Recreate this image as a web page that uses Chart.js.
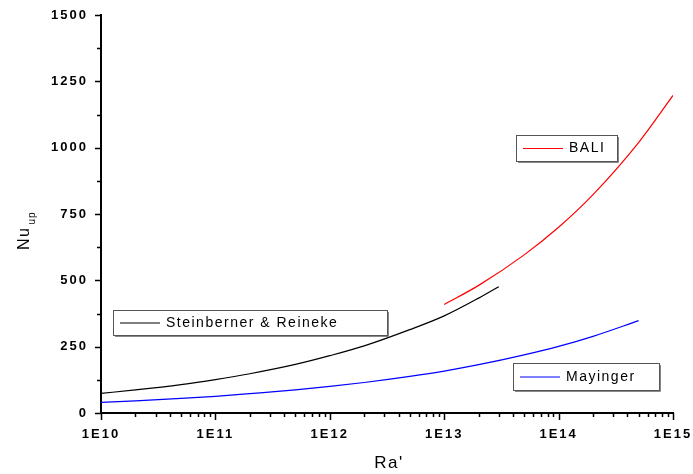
<!DOCTYPE html>
<html>
<head>
<meta charset="utf-8">
<script src="https://cdn.jsdelivr.net/npm/chart.js@4"></script>
<style>
  html, body { margin: 0; padding: 0; background: #fff; }
  #wrap { width: 693px; height: 474px; }
</style>
</head>
<body>
<div id="wrap"><canvas id="nuChart" width="693" height="474"></canvas></div>
<script>
// values
const srRa = [1e10, 2e10, 5e10, 1e11, 2e11, 5e11, 1e12, 2e12, 5e12, 1e13, 2e13, 3e13];
const srNu = [74, 87, 107, 126, 148, 183, 216, 253, 314, 366, 433, 476];

const mayRa = [1e10, 2e10, 5e10, 1e11, 2e11, 5e11, 1e12, 2e12, 5e12, 1e13, 2e13, 5e13, 1e14, 2e14, 5e14];
const mayNu = [40, 46, 55, 63, 73, 87, 100, 115, 138, 158, 182, 219, 251, 289, 348];

const baliRa = [1e13, 2e13, 5e13, 1e14, 2e14, 5e14, 1e15];
const baliNu = [409, 481, 596, 700, 823, 1019, 1197];

const yTicks = [0, 250, 500, 750, 1000, 1250, 1500];

const pts = (xs, ys) => xs.map((x, i) => ({ x: x, y: ys[i] }));

// legend boxes (label, colour, box x, y, w, h)
const legendBoxes = [
  ['Steinberner & Reineke', '#000000', 113, 310, 274, 25],
  ['BALI', '#ff0000', 516, 135, 101, 26],
  ['Mayinger', '#0000ff', 513, 363, 146, 27]
];

const originLook = {
  id: 'originLook',
  beforeLayout(chart) { chart.ctx.letterSpacing = '2px'; },
  beforeDraw(chart) { chart.ctx.letterSpacing = '2px'; },
  afterDraw(chart) {
    const ctx = chart.ctx;
    const xs = chart.scales.x, ys = chart.scales.y;
    const area = chart.chartArea;
    ctx.save();
    ctx.strokeStyle = '#000';
    ctx.lineWidth = 1.5;
    // x ticks, decades and minors
    ctx.beginPath();
    for (let e = 10; e <= 15; e++) {
      for (let m = 1; m <= 9; m++) {
        const v = m * Math.pow(10, e);
        if (v > 1e15) break;
        const px = Math.round(xs.getPixelForValue(v)) + 0.5;
        const len = m === 1 ? 7 : 4;
        ctx.moveTo(px, area.bottom);
        ctx.lineTo(px, area.bottom + len);
      }
    }
    // y ticks every 125
    for (let v = 0; v <= 1500; v += 125) {
      const py = Math.round(ys.getPixelForValue(v)) + 0.5;
      const len = v % 250 === 0 ? 6 : 4;
      ctx.moveTo(area.left, py);
      ctx.lineTo(area.left - len, py);
    }
    ctx.stroke();

    // axis titles
    ctx.fillStyle = '#000';
    ctx.letterSpacing = '1.5px';
    ctx.font = '17px "Liberation Sans", Arial, sans-serif';
    ctx.textAlign = 'center';
    ctx.textBaseline = 'alphabetic';
    ctx.fillText("Ra'", 389, 468);

    ctx.save();
    ctx.translate(29, 250);
    ctx.rotate(-Math.PI / 2);
    ctx.textAlign = 'left';
    ctx.font = '16px "Liberation Sans", Arial, sans-serif';
    ctx.fillText('Nu', 0, 0);
    const w = ctx.measureText('Nu').width;
    ctx.font = '10px "Liberation Sans", Arial, sans-serif';
    ctx.letterSpacing = '1px';
    ctx.fillText('up', w + 2, 6);
    ctx.restore();

    // legend boxes
    ctx.letterSpacing = '1.5px';
    ctx.font = '14px "Liberation Sans", Arial, sans-serif';
    ctx.textAlign = 'left';
    ctx.textBaseline = 'middle';
    legendBoxes.forEach(([label, col, bx, by, bw, bh]) => {
      ctx.fillStyle = '#fff';
      ctx.fillRect(bx, by, bw, bh);
      ctx.lineWidth = 1;
      ctx.strokeStyle = '#555';
      ctx.strokeRect(bx + 0.5, by + 0.5, bw, bh);
      ctx.strokeStyle = '#888';
      ctx.beginPath();
      ctx.moveTo(bx + bw + 1.5, by + 2);
      ctx.lineTo(bx + bw + 1.5, by + bh + 1.5);
      ctx.lineTo(bx + 2, by + bh + 1.5);
      ctx.stroke();
      const cy = by + bh / 2 + 0.5;
      ctx.strokeStyle = col;
      ctx.beginPath();
      ctx.moveTo(bx + 7, cy);
      ctx.lineTo(bx + 47, cy);
      ctx.stroke();
      ctx.fillStyle = '#000';
      ctx.fillText(label, bx + 53, cy);
    });
    ctx.restore();
  }
};

const tickFont = { family: '"Liberation Sans", Arial, sans-serif', size: 13, weight: 'bold' };

new Chart(document.getElementById('nuChart'), {
  type: 'line',
  data: {
    datasets: [
      { label: 'Steinberner & Reineke', data: pts(srRa, srNu), borderColor: '#000000' },
      { label: 'Mayinger', data: pts(mayRa, mayNu), borderColor: '#0000ff' },
      { label: 'BALI', data: pts(baliRa, baliNu), borderColor: '#ff0000' }
    ]
  },
  options: {
    responsive: false,
    animation: false,
    devicePixelRatio: 1,
    layout: { padding: 0 },
    elements: {
      point: { radius: 0 },
      line: { borderWidth: 1.2, cubicInterpolationMode: 'monotone', fill: false }
    },
    plugins: {
      legend: { display: false },
      tooltip: { enabled: false }
    },
    scales: {
      x: {
        type: 'logarithmic',
        min: 1e10,
        max: 1e15,
        afterFit(s) { s.height = 61; s.paddingRight = 20; s.paddingLeft = 0; },
        grid: { display: false, drawTicks: false },
        border: { display: true, color: '#000', width: 2 },
        ticks: {
          autoSkip: false,
          maxRotation: 0,
          padding: 14,
          color: '#000',
          font: tickFont,
          callback(v) {
            const e = Math.log10(v);
            return Math.abs(e - Math.round(e)) < 1e-9 ? '1E' + Math.round(e) : '';
          }
        }
      },
      y: {
        type: 'linear',
        min: 0,
        max: 1500,
        afterFit(s) { s.width = 101; s.paddingTop = 15; s.paddingBottom = 0; },
        afterBuildTicks(s) { s.ticks = yTicks.map(v => ({ value: v })); },
        grid: { display: false, drawTicks: false },
        border: { display: true, color: '#000', width: 2 },
        ticks: { padding: 13, color: '#000', font: tickFont, callback: v => String(v) }
      }
    }
  },
  plugins: [originLook]
});
</script>
</body>
</html>
